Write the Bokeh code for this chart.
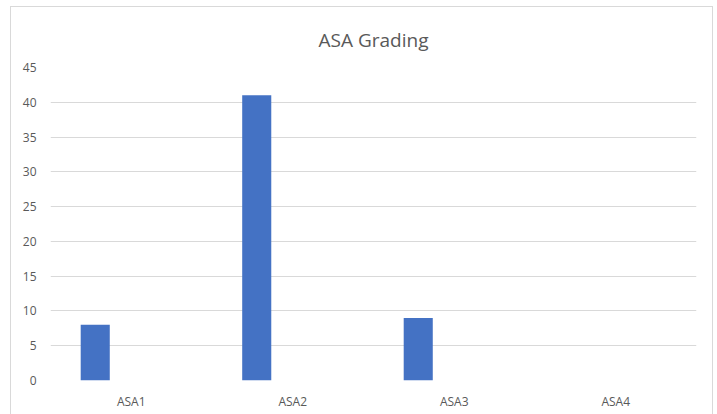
from bokeh.plotting import figure
from bokeh.models import FactorRange, SingleIntervalTicker, ColumnDataSource, Title
from bokeh.transform import dodge
from bokeh.embed import file_html
from bokeh.resources import INLINE

# ASA grade counts
categories = ["ASA1", "ASA2", "ASA3", "ASA4"]
counts = [8, 41, 9, 0]
title_text = "ASA Grading"

FONT = "Open Sans"
GREY_TEXT = "#595959"
GRID = "#d9d9d9"
BAR = "#4472C4"

source = ColumnDataSource(dict(cat=categories, n=counts))

p = figure(
    x_range=FactorRange(*categories, range_padding=0),
    y_range=(0, 45),
    frame_width=646, frame_height=313,
    output_backend="svg", toolbar_location=None,
    min_border_left=39, min_border_right=16,
    min_border_top=60, min_border_bottom=40,
    outline_line_color=None,
    background_fill_color="white", border_fill_color="white",
    margin=(6, 0, 0, 10),
    title=title_text,
)
p.styles = {"border": "1px solid #d9d9d9"}

p.title.align = "center"
p.title.text_font = FONT
p.title.text_font_size = "19px"
p.title.text_font_style = "normal"
p.title.text_color = GREY_TEXT
p.title.standoff = 4

# blank strip between the title and the plot area
p.add_layout(Title(text=" ", text_font_size="10px", standoff=0), "above")

p.vbar(x=dodge("cat", -0.223, range=p.x_range), top="n", width=0.18,
       source=source, fill_color=BAR, line_color=None)

# y axis: gridlines only, labels on the left
p.yaxis.ticker = SingleIntervalTicker(interval=5)
p.yaxis.axis_line_color = None
p.yaxis.major_tick_line_color = None
p.yaxis.minor_tick_line_color = None
p.yaxis.major_label_text_font = FONT
p.yaxis.major_label_text_font_size = "12px"
p.yaxis.major_label_text_color = GREY_TEXT
p.yaxis.major_label_standoff = 8

p.xaxis.axis_line_color = None
p.xaxis.major_tick_line_color = None
p.xaxis.minor_tick_line_color = None
p.xaxis.major_label_text_font = FONT
p.xaxis.major_label_text_font_size = "12px"
p.xaxis.major_label_text_color = GREY_TEXT
p.xaxis.major_label_standoff = 6

p.xgrid.grid_line_color = None
p.ygrid.grid_line_color = GRID
p.ygrid.grid_line_width = 1

open("out.html", "w").write(file_html(p, INLINE))
